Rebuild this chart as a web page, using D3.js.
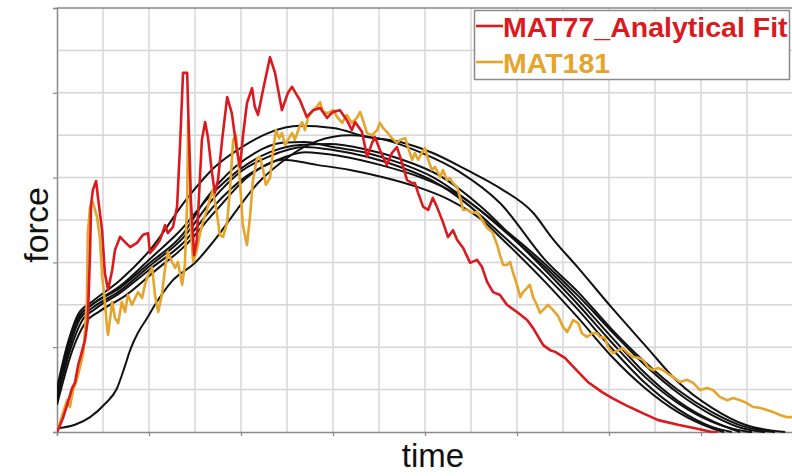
<!DOCTYPE html>
<html>
<head>
<meta charset="utf-8">
<script src="https://cdn.jsdelivr.net/npm/d3@7"></script>
<style>
  html, body { margin: 0; padding: 0; background: #fff; }
  svg { display: block; }
</style>
</head>
<body>
<svg id="chart" width="792" height="476"></svg>
<script>
// ---- data -------------------------------------------------------------
const xTicks = [0, 20, 40, 60, 80, 100, 120, 140, 160];
const yTicks = [0, 20, 40, 60, 80, 100];
const xTitle = "time";
const yTitle = "force";
const legendLabels = ["MAT77_Analytical Fit", "MAT181"];

// [time, force] pairs
const mat77 = [
  [0,0],[0.7,1.7],[1.3,3.3],[2.2,6.4],[3.3,10.4],[3.9,11.6],[4.6,15.8],[5.4,18.9],[6.1,21.7],[6.7,26.4],
  [7.2,42.9],[7.4,53.5],[7.8,57.1],[8.5,59.2],[8.9,55.4],[9.8,47.6],[10.4,37.5],[11.1,33.5],[12.0,38.2],[12.6,42.9],
  [13.7,46.0],[14.8,44.8],[15.9,43.6],[17.4,44.6],[18.7,46.5],[19.8,46.9],[20.2,42.2],[21.3,43.6],[22.4,45.3],[23.5,48.8],
  [24.1,46.9],[25.2,48.3],[26.1,53.1],[26.7,66.5],[27.4,84.7],[28.3,84.7],[28.5,76.7],[29.1,54.7],[29.8,41.7],[30.4,45.3],
  [31.1,60.6],[31.5,68.9],[32.2,73.1],[32.8,69.6],[33.7,61.1],[34.3,56.4],[35.0,59.4],[35.9,68.9],[37.0,79.0],[38.0,75.2],
  [39.1,66.5],[39.8,62.5],[40.4,69.6],[41.3,77.6],[42.4,81.1],[43.0,76.7],[43.7,74.8],[44.8,80.7],[46.3,88.4],[47.4,84.7],
  [48.9,75.9],[50.2,80.0],[51.1,81.4],[52.4,79.0],[52.8,78.3],[54.3,74.3],[55.7,75.9],[57.2,76.4],[58.7,74.1],[60.0,75.5],
  [61.5,75.9],[63.0,73.6],[64.1,71.2],[64.8,73.1],[66.3,70.8],[67.4,64.9],[68.5,68.2],[69.1,69.6],[70.2,66.5],[71.7,63.0],
  [72.8,65.8],[73.9,67.2],[74.6,64.9],[76.1,59.4],[77.2,58.7],[77.8,58.7],[78.5,56.4],[79.6,53.1],[80.7,52.4],[81.7,55.2],
  [82.6,53.1],[83.9,49.5],[85.0,46.0],[86.1,47.6],[87.0,45.3],[88.3,43.4],[89.8,39.9],[91.3,40.6],[92.4,38.9],[93.5,35.4],
  [94.8,33.0],[96.3,32.3],[97.8,30.0],[100.0,28.3],[102.2,26.4],[103.5,24.5],[105.7,20.5],[107.2,19.3],[108.3,18.9],[110.4,17.5],
  [113.3,14.2],[115.4,11.8],[118.5,9.4],[120.7,8.0],[123.5,6.4],[127.2,4.5],[130.7,2.8],[135.0,1.7],[138.7,0.9],[142.4,0],[143.7,0]
];

const mat181 = [
  [0,0],[0.2,0.5],[1.3,4.5],[2.2,7.5],[2.8,5.9],[3.5,9.9],[4.3,12.3],[5.0,15.3],[5.7,18.6],[6.1,24.1],
  [6.5,31.1],[6.7,46.9],[7.2,53.1],[7.8,54.2],[8.7,50.7],[9.3,46.0],[9.8,37.0],[10.4,30.7],[10.9,24.5],[11.1,22.9],
  [12.0,30.7],[12.6,26.9],[13.3,25.7],[14.1,30.7],[14.8,28.3],[15.4,32.3],[16.3,30.0],[17.0,31.6],[17.6,33.0],[18.5,31.6],
  [19.1,34.7],[19.8,37.0],[20.7,38.7],[21.3,32.3],[22.0,28.3],[22.8,32.3],[23.5,38.7],[24.1,42.5],[25.0,40.1],[25.7,38.7],
  [26.3,40.1],[27.2,34.7],[27.8,39.4],[28.3,54.7],[28.5,73.6],[28.9,64.2],[29.1,47.6],[29.6,40.1],[30.4,42.9],[31.1,46.9],
  [31.7,49.5],[32.6,52.4],[33.3,55.2],[33.9,57.1],[34.8,51.2],[35.4,46.5],[36.1,46.0],[37.0,49.5],[37.6,57.1],[38.3,68.9],
  [38.9,70.0],[39.6,61.8],[40.4,48.8],[41.3,44.1],[42.0,51.2],[42.6,59.4],[43.5,64.6],[44.1,64.9],[44.8,61.8],[45.4,58.3],
  [46.3,59.9],[47.0,66.5],[47.6,71.2],[48.3,69.3],[48.9,70.5],[49.6,67.7],[50.2,68.9],[51.1,70.5],[51.7,68.9],[52.6,71.7],
  [53.3,73.1],[53.9,71.2],[54.6,74.3],[55.7,75.9],[56.5,76.7],[57.2,77.8],[57.8,75.5],[58.9,75.2],[60.0,75.9],[60.9,74.3],
  [62.0,72.9],[63.0,74.8],[64.1,72.9],[65.2,74.1],[65.9,75.5],[66.5,73.6],[67.4,70.5],[68.5,70.0],[69.6,71.2],[70.2,72.9],
  [70.9,71.7],[71.7,70.8],[72.8,69.3],[73.9,68.2],[74.6,68.9],[75.7,69.3],[76.3,67.2],[77.2,64.2],[77.8,65.8],[78.5,64.2],
  [79.3,65.8],[80.0,67.0],[80.7,64.2],[81.5,61.8],[82.2,62.5],[83.3,60.1],[83.9,61.8],[84.8,59.4],[85.4,59.9],[86.1,58.7],
  [87.0,57.8],[87.6,55.4],[88.3,52.4],[89.3,52.4],[90.2,51.7],[91.3,51.9],[92.4,50.0],[93.5,48.1],[94.6,47.2],[95.7,44.1],
  [96.3,41.7],[97.0,39.4],[97.8,39.4],[98.5,40.1],[99.1,37.7],[100.0,34.7],[100.7,31.8],[101.3,33.0],[102.2,34.0],[102.8,34.7],
  [103.5,31.8],[104.3,30.0],[105.0,28.1],[105.7,28.8],[106.7,30.0],[107.8,28.8],[108.9,27.4],[110.0,24.8],[110.9,23.6],[111.5,24.8],
  [112.2,26.4],[113.3,25.7],[114.1,23.3],[115.2,22.4],[116.3,23.3],[117.4,23.3],[118.0,22.4],[119.1,22.2],[119.8,20.0],[120.9,18.6],
  [122.0,19.3],[123.0,19.8],[124.1,18.6],[125.2,17.7],[126.3,17.5],[127.4,17.0],[128.5,15.3],[129.6,14.6],[130.7,15.1],[131.7,14.6],
  [132.6,13.9],[133.9,13.0],[135.4,11.8],[137.0,12.3],[138.3,11.6],[139.8,9.9],[141.3,10.4],[142.6,9.9],[144.1,8.3],[145.7,7.5],
  [147.0,8.0],[148.5,7.5],[150.0,6.8],[151.3,5.9],[152.8,5.7],[154.3,5.2],[155.7,4.7],[157.2,4.0],[158.7,3.5],[159.8,3.5]
];

// reference test curves (black)
const test1 = [
  [0,9.4],[2.4,20.3],[4.6,27.1],[7.2,29.7],[13.7,34.0],[20.2,39.9],[27.4,46.7],[32.2,54.7],[38.7,62.5],[43.0,65.8],
  [48.9,68.2],[53.9,68.4],[60.0,67.2],[67.4,65.8],[74.6,63.4],[81.7,60.1],[89.1,54.7],[96.3,48.3],[100.7,44.1],[106.1,38.9],
  [113.3,31.1],[120.7,22.2],[127.8,13.9],[135.0,7.3],[142.4,2.6],[148.5,0]
];
const test2 = [
  [0,8.5],[2.4,19.1],[5.0,26.7],[7.6,29.2],[13.7,33.3],[20.2,39.2],[27.4,45.8],[33.7,54.7],[40.2,61.6],[45.9,64.9],
  [53.9,67.2],[60.0,66.5],[67.4,64.9],[74.6,62.5],[81.7,59.2],[89.1,53.8],[96.3,46.9],[106.1,37.0],[113.3,28.8],[120.7,19.6],
  [127.8,11.6],[135.0,5.4],[142.4,1.2],[146.7,0]
];
const test3 = [
  [0,7.5],[2.8,19.1],[5.4,26.2],[8.3,29.0],[13.7,32.8],[20.2,38.4],[27.8,45.0],[34.3,53.5],[40.9,60.1],[47.4,63.9],
  [53.9,66.0],[61.5,65.1],[70.2,63.0],[78.9,60.1],[87.6,55.7],[96.3,48.6],[106.1,39.6],[113.3,32.1],[120.7,23.6],[127.8,15.8],
  [135.0,9.2],[142.4,4.0],[149.6,0.7],[153.9,0]
];
const test4 = [
  [0,6.4],[3.3,19.1],[6.1,25.7],[9.3,28.5],[14.8,32.1],[21.3,38.0],[27.8,43.9],[34.3,51.9],[42.0,60.6],[49.1,64.2],
  [56.5,63.0],[63.7,61.8],[70.9,60.1],[78.3,57.8],[85.4,54.7],[92.6,49.8],[96.3,46.0],[106.1,35.4],[113.3,26.9],[120.7,17.7],
  [127.8,10.4],[135.0,4.7],[142.4,0.9],[145.0,0]
];
const test5 = [
  [0,9.0],[2.8,20.3],[5.0,27.4],[7.6,30.0],[13.7,34.4],[20.2,40.8],[26.7,47.4],[33.3,55.7],[39.8,62.0],[46.3,66.0],
  [52.8,67.7],[59.3,67.9],[67.0,66.7],[74.6,64.4],[83.3,60.4],[92.0,53.3],[100.7,44.1],[106.1,38.2],[113.3,30.0],[120.7,21.0],
  [127.8,13.0],[135.0,6.8],[142.4,2.4],[149.6,0.2],[151.1,0]
];
const test6 = [
  [0,10.4],[2.4,21.2],[4.6,27.8],[7.6,30.7],[13.7,35.8],[20.2,42.9],[28.5,55.4],[34.3,62.5],[40.2,67.2],[45.9,70.5],
  [52.8,72.2],[60.0,71.7],[67.4,69.6],[74.6,68.4],[81.7,65.8],[89.1,61.8],[96.3,57.5],[103.5,51.7],[107.6,45.8],[113.3,38.7],
  [120.7,29.2],[127.8,20.5],[135.0,11.8],[142.4,5.7],[149.6,1.7],[158.3,0]
];
const test7 = [
  [0.2,0.9],[3.9,1.7],[7.2,3.5],[10.4,6.6],[13.0,10.2],[14.6,15.0],[16.0,19.6],[17.6,23.4],[19.6,26.9],[21.3,30.0],
  [25.0,35.6],[30.0,39.9],[34.8,46.0],[39.1,52.4],[43.5,58.5],[48.5,63.4],[56.5,68.6],[63.7,70.0],[71.3,68.9],[78.9,66.0],
  [87.6,61.3],[96.3,54.0],[106.1,40.6],[113.3,33.0],[120.7,24.1],[127.8,16.5],[135.0,9.9],[142.4,4.7],[149.6,1.2],[156.1,0]
];
const testCurves = [test1, test2, test3, test4, test5, test6, test7];

// ---- layout -----------------------------------------------------------
const svg = d3.select("#chart");
const plot = { left: 57, top: 8, right: 793, bottom: 432 };
const colors = { mat77: "#da1a1f", mat181: "#e5a42a", test: "#111111", grid: "#d6d6d6", frame: "#8a8a8a" };
const fontFamily = "'Liberation Sans', Arial, sans-serif";

const x = d3.scaleLinear().domain([0, 160]).range([plot.left, plot.right]);
const y = d3.scaleLinear().domain([0, 100]).range([plot.bottom, plot.top]);

svg.append("defs").append("clipPath").attr("id", "plotClip")
  .append("rect")
  .attr("x", plot.left).attr("y", plot.top - 2)
  .attr("width", plot.right - plot.left).attr("height", plot.bottom - plot.top + 3);

// grid
const grid = svg.append("g").attr("class", "grid");
grid.selectAll("line.vx").data(d3.range(10, 161, 10)).join("line")
  .attr("x1", d => x(d)).attr("x2", d => x(d))
  .attr("y1", plot.top).attr("y2", plot.bottom)
  .attr("stroke", colors.grid).attr("stroke-width", 1.5);
grid.selectAll("line.hy").data(d3.range(10, 100, 10)).join("line")
  .attr("x1", plot.left).attr("x2", plot.right)
  .attr("y1", d => y(d)).attr("y2", d => y(d))
  .attr("stroke", colors.grid).attr("stroke-width", 1.5);

// frame (top edge)
svg.append("line")
  .attr("x1", plot.left).attr("x2", plot.right)
  .attr("y1", y(100)).attr("y2", y(100))
  .attr("stroke", colors.frame).attr("stroke-width", 1.5);

// axes
const xAxis = svg.append("g").attr("transform", `translate(0,${plot.bottom})`)
  .call(d3.axisBottom(x).tickValues(xTicks).tickSize(4).tickFormat(""));
const yAxis = svg.append("g").attr("transform", `translate(${plot.left},0)`)
  .call(d3.axisLeft(y).tickValues(yTicks).tickSize(4).tickFormat(""));
[xAxis, yAxis].forEach(g => {
  g.select(".domain").attr("stroke", colors.frame).attr("stroke-width", 1.5);
  g.selectAll(".tick line").attr("stroke", colors.frame).attr("stroke-width", 1.2);
});

// curves
const lines = svg.append("g").attr("clip-path", "url(#plotClip)");
const smooth = d3.line().x(d => x(d[0])).y(d => y(d[1])).curve(d3.curveMonotoneX);
const jagged = d3.line().x(d => x(d[0])).y(d => y(d[1]));

lines.selectAll("path.test").data(testCurves).join("path")
  .attr("class", "test")
  .attr("d", smooth)
  .attr("fill", "none")
  .attr("stroke", colors.test)
  .attr("stroke-width", 2)
  .attr("stroke-linejoin", "round");

lines.append("path").datum(mat181)
  .attr("d", jagged).attr("fill", "none")
  .attr("stroke", colors.mat181).attr("stroke-width", 2.6)
  .attr("stroke-linejoin", "round");

lines.append("path").datum(mat77)
  .attr("d", jagged).attr("fill", "none")
  .attr("stroke", colors.mat77).attr("stroke-width", 2.6)
  .attr("stroke-linejoin", "round");

// axis titles
svg.append("text")
  .attr("x", 433).attr("y", 467)
  .attr("text-anchor", "middle")
  .attr("font-family", fontFamily)
  .attr("font-size", 33).attr("fill", "#111")
  .text(xTitle);
svg.append("text")
  .attr("transform", "translate(48,225) rotate(-90)")
  .attr("text-anchor", "middle")
  .attr("font-family", fontFamily)
  .attr("font-size", 34).attr("fill", "#111")
  .text(yTitle);

// legend
const legend = svg.append("g");
legend.append("rect")
  .attr("x", 474.5).attr("y", 10.5).attr("width", 315).attr("height", 69)
  .attr("fill", "#fff").attr("stroke", colors.frame).attr("stroke-width", 1.5);
const legendColors = [colors.mat77, colors.mat181];
legendLabels.forEach((label, i) => {
  const cy = 26 + i * 36;
  legend.append("line")
    .attr("x1", 476).attr("x2", 503).attr("y1", cy).attr("y2", cy)
    .attr("stroke", legendColors[i]).attr("stroke-width", 2.6);
  legend.append("text")
    .attr("x", 503).attr("y", cy + 11)
    .attr("font-family", fontFamily)
    .attr("font-weight", "bold").attr("font-size", 28.5)
    .attr("fill", legendColors[i])
    .text(label);
});
</script>
</body>
</html>
